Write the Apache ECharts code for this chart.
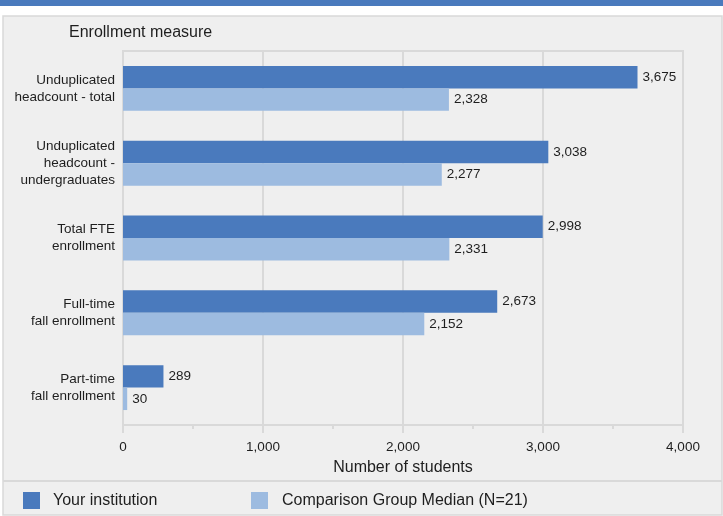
<!DOCTYPE html>
<html>
<head>
<meta charset="utf-8">
<script src="https://cdn.jsdelivr.net/npm/echarts@6/dist/echarts.min.js"></script>
<style>
html,body{margin:0;padding:0;background:#fff;}
#c{width:723px;height:516px;}
</style>
</head>
<body>
<div id="c"></div>
<script>
const categories = [
  "Unduplicated\nheadcount - total",
  "Unduplicated\nheadcount -\nundergraduates",
  "Total FTE\nenrollment",
  "Full-time\nfall enrollment",
  "Part-time\nfall enrollment"
];
const yourInstitution = [3675, 3038, 2998, 2673, 289];
const comparisonMedian = [2328, 2277, 2331, 2152, 30];
const seriesNames = ["Your institution", "Comparison Group Median (N=21)"];

const DARK = "#4a7abd";
const LIGHT = "#9dbbe0";
const GRID = "#d9d9d9";
const TXT = "#1e1e1e";
const FONT = "Liberation Sans, Arial, sans-serif";

const chart = echarts.init(document.getElementById('c'), null, {renderer: 'canvas'});
const fmt = p => Number(p.value).toLocaleString('en-US');

chart.setOption({
  backgroundColor: '#ffffff',
  animation: false,
  textStyle: {fontFamily: FONT, color: TXT},
  graphic: [
    {type: 'rect', z: -10, shape: {x: 0, y: 0, width: 723, height: 6}, style: {fill: DARK}},
    {type: 'rect', z: -10, shape: {x: 3, y: 16, width: 719, height: 499}, style: {fill: '#efefef', stroke: GRID, lineWidth: 1.5}},
    {type: 'line', z: -9, shape: {x1: 3, y1: 481, x2: 722, y2: 481}, style: {stroke: GRID, lineWidth: 2}}
  ],
  title: {
    text: 'Enrollment measure',
    left: 69, top: 25, padding: 0,
    textStyle: {fontFamily: FONT, fontSize: 16, fontWeight: 'normal', color: TXT}
  },
  legend: [
    {
      data: [seriesNames[0]], left: 23, top: 492, padding: 0,
      itemWidth: 17, itemHeight: 17, icon: 'rect',
      textStyle: {fontFamily: FONT, fontSize: 16, color: TXT, padding: [0, 0, 0, 8]},
      selectedMode: false
    },
    {
      data: [seriesNames[1]], left: 251, top: 492, padding: 0,
      itemWidth: 17, itemHeight: 17, icon: 'rect',
      textStyle: {fontFamily: FONT, fontSize: 16, color: TXT, padding: [0, 0, 0, 9]},
      selectedMode: false
    }
  ],
  grid: {
    left: 123, right: 40, top: 51, bottom: 91,
    show: true, borderColor: GRID, borderWidth: 2, backgroundColor: 'transparent',
    containLabel: false
  },
  xAxis: {
    type: 'value', min: 0, max: 4000, interval: 1000,
    name: 'Number of students', nameLocation: 'middle', nameGap: 35,
    nameTextStyle: {fontFamily: FONT, fontSize: 16, color: TXT},
    axisLine: {show: true, lineStyle: {color: GRID, width: 2}},
    axisTick: {show: true, length: 8, lineStyle: {color: GRID, width: 2}},
    minorTick: {show: true, splitNumber: 2, length: 4, lineStyle: {color: GRID, width: 2}},
    splitLine: {show: true, lineStyle: {color: GRID, width: 2}},
    axisLabel: {
      fontFamily: FONT, fontSize: 13.5, color: TXT, margin: 15,
      formatter: v => Number(v).toLocaleString('en-US')
    }
  },
  yAxis: {
    type: 'category', data: categories, inverse: true,
    axisLine: {show: false}, axisTick: {show: false},
    axisLabel: {fontFamily: FONT, fontSize: 13.5, color: TXT, margin: 8, align: 'right', lineHeight: 17, padding: [5, 0, 0, 0]}
  },
  series: [
    {
      name: seriesNames[0], type: 'bar', data: yourInstitution,
      barGap: '0%', barCategoryGap: '40%',
      itemStyle: {color: DARK},
      label: {show: true, position: 'right', distance: 5, fontFamily: FONT, fontSize: 13.5, color: TXT, formatter: fmt}
    },
    {
      name: seriesNames[1], type: 'bar', data: comparisonMedian,
      barGap: '0%', barCategoryGap: '40%',
      itemStyle: {color: LIGHT},
      label: {show: true, position: 'right', distance: 5, fontFamily: FONT, fontSize: 13.5, color: TXT, formatter: fmt}
    }
  ]
});
</script>
</body>
</html>
